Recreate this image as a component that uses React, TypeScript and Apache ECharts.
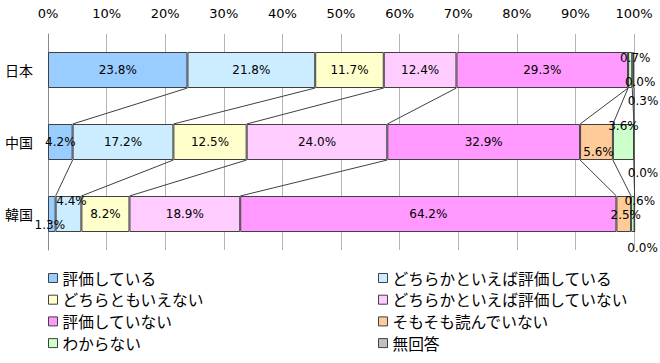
import React, { useEffect, useRef } from "react";
import * as echarts from "echarts";

const categories = ["日本", "中国", "韓国"];
const seriesNames = [
  "評価している",
  "どちらかといえば評価している",
  "どちらともいえない",
  "どちらかといえば評価していない",
  "評価していない",
  "そもそも読んでいない",
  "わからない",
  "無回答",
];
const hyoka = [23.8, 4.2, 1.3];
const dochirakaHyoka = [21.8, 17.2, 4.4];
const dochiramo = [11.7, 12.5, 8.2];
const dochirakaNot = [12.4, 24.0, 18.9];
const notHyoka = [29.3, 32.9, 64.2];
const yondeinai = [0.0, 5.6, 2.5];
const wakaranai = [0.7, 3.6, 0.6];
const mukaito = [0.3, 0.0, 0.0];
const xTicks = [0, 10, 20, 30, 40, 50, 60, 70, 80, 90, 100];

const allValues = [hyoka, dochirakaHyoka, dochiramo, dochirakaNot, notHyoka, yondeinai, wakaranai, mukaito];
const colors = ["#99CCFF", "#CCECFF", "#FFFFCC", "#FFCCFF", "#FF99FF", "#FFCC99", "#CCFFCC", "#C0C0C0"];

// label offsets (style) : [seriesIndex][categoryIndex]
const labelOffsets: Record<string, [number, number]> = {
  "0-2": [-2, 11],
  "1-2": [3, -13],
  "5-0": [12, 12],
  "5-1": [2, 10],
  "5-2": [2, 1],
  "6-0": [5, -12],
  "6-1": [0, -16],
  "6-2": [7, -13],
  "7-0": [10, 31],
  "7-1": [9, 31],
  "7-2": [8, 34],
};

export default function App() {
  const ref = useRef<HTMLDivElement>(null);
  useEffect(() => {
    document.body.style.margin = "0";
    const chart = echarts.init(ref.current!, null, { renderer: "svg" });

    const cum = categories.map((_, ci) => {
      const arr: number[] = [];
      let s = 0;
      allValues.forEach((vals) => {
        s += vals[ci];
        arr.push(Math.round(s * 10) / 10);
      });
      return arr;
    });
    const lineData: number[][] = [];
    for (let ci = 0; ci < categories.length - 1; ci++) {
      for (let k = 0; k < allValues.length; k++) {
        lineData.push([cum[ci][k], ci, cum[ci + 1][k], ci + 1]);
      }
    }

    const barSeries = allValues.map((vals, si) => ({
      name: seriesNames[si],
      type: "bar",
      stack: "total",
      barWidth: "50%",
      clip: false,
      itemStyle: { color: colors[si], borderColor: "#404040", borderWidth: 1 },
      label: {
        show: true,
        position: "inside",
        color: "#000",
        fontSize: 12,
        fontFamily: "DejaVu Sans",
        formatter: (p: any) => Number(p.value).toFixed(1) + "%",
      },
      data: vals.map((v, ci) => {
        const off = labelOffsets[`${si}-${ci}`];
        return off ? { value: v, label: { offset: off } } : { value: v };
      }),
    }));

    const legendText = { fontSize: 15.7, color: "#000", fontFamily: "Noto Sans CJK JP", lineHeight: 16 };
    const legendBase = {
      orient: "vertical",
      top: 265,
      itemWidth: 9,
      itemHeight: 9,
      itemGap: 5.7,
      icon: "rect",
      itemStyle: { borderColor: "#404040", borderWidth: 1 },
      textStyle: legendText,
    };
    chart.setOption({
      animation: false,
      grid: { left: 48, right: 26, top: 34, bottom: 113 },
      xAxis: {
        type: "value",
        position: "top",
        min: xTicks[0],
        max: xTicks[xTicks.length - 1],
        interval: 10,
        axisLine: { show: false },
        axisTick: { show: false },
        splitLine: { lineStyle: { color: "#B4B4B4", width: 1 } },
        axisLabel: {
          formatter: "{value}%",
          fontSize: 13,
          color: "#000",
          fontFamily: "DejaVu Sans",
          margin: 14,
        },
      },
      yAxis: {
        type: "category",
        inverse: true,
        data: categories,
        axisLine: { lineStyle: { color: "#8C8C8C" } },
        axisTick: { lineStyle: { color: "#8C8C8C" }, length: 4 },
        axisLabel: { fontSize: 14, color: "#000", fontFamily: "Noto Sans CJK JP", margin: 15 },
      },
      legend: [
        {
          ...legendBase,
          left: 43,
          data: [seriesNames[0], seriesNames[2], seriesNames[4], seriesNames[6]],
        },
        {
          ...legendBase,
          left: 373,
          data: [seriesNames[1], seriesNames[3], seriesNames[5], seriesNames[7]],
        },
      ],
      series: [
        ...barSeries,
        {
          type: "custom",
          silent: true,
          z: 1,
          encode: { x: [0, 2], y: [1, 3] },
          data: lineData,
          renderItem: (params: any, api: any) => {
            const p1 = api.coord([api.value(0), api.value(1)]);
            const p2 = api.coord([api.value(2), api.value(3)]);
            const h = api.size([0, 1])[1] * 0.25;
            return {
              type: "line",
              shape: { x1: p1[0], y1: p1[1] + h, x2: p2[0], y2: p2[1] - h },
              style: { stroke: "#404040", lineWidth: 1 },
            };
          },
        },
      ],
    });
    return () => chart.dispose();
  }, []);
  return <div ref={ref} style={{ width: 660, height: 363 }} />;
}
